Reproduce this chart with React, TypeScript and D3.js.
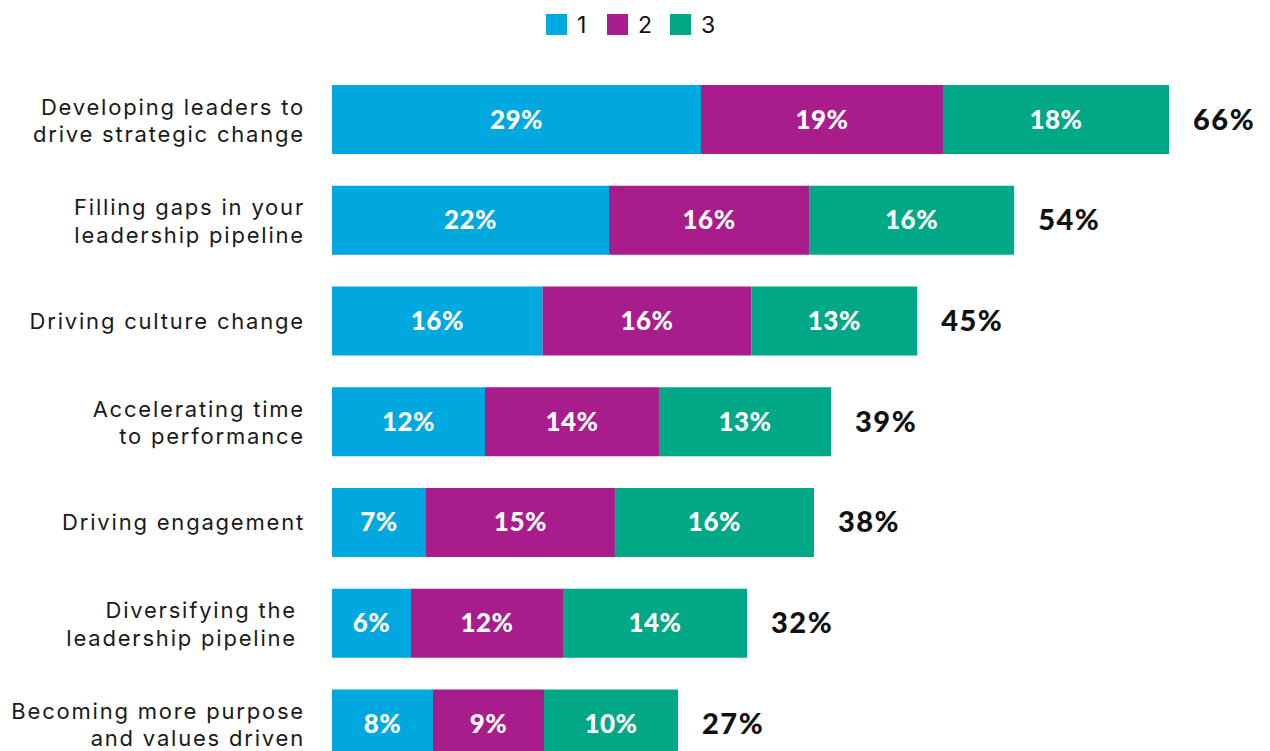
import React from "react";
import * as d3 from "d3";

const categories: string[][] = [
  ["Developing leaders to", "drive strategic change"],
  ["Filling gaps in your", "leadership pipeline"],
  ["Driving culture change"],
  ["Accelerating time", "to performance"],
  ["Driving engagement"],
  ["Diversifying the", "leadership pipeline"],
  ["Becoming more purpose", "and values driven"],
];

const seriesNames = ["1", "2", "3"];
const series1 = [28.94, 21.73, 16.52, 12.0, 7.37, 6.2, 7.92];
const series2 = [18.98, 15.69, 16.38, 13.65, 14.82, 11.92, 8.71];
const series3 = [17.73, 16.08, 13.0, 13.49, 15.61, 14.43, 10.51];
const labels1 = ["29%", "22%", "16%", "12%", "7%", "6%", "8%"];
const labels2 = ["19%", "16%", "16%", "14%", "15%", "12%", "9%"];
const labels3 = ["18%", "16%", "13%", "13%", "16%", "14%", "10%"];
const totalLabels = ["66%", "54%", "45%", "39%", "38%", "32%", "27%"];

const colors = ["#00A8E0", "#A81C8C", "#00A886"];
const FONT = "Inter, 'Open Sans', sans-serif";
const BOLD = "Lato, 'Open Sans', sans-serif";

export default function App() {
  const W = 1270;
  const H = 751;
  const x = d3.scaleLinear().domain([0, 100]).range([332, 332 + 1275]);
  const idx = categories.map((_, i) => String(i));
  const y = d3
    .scaleBand<string>()
    .domain(idx)
    .range([85, 758.5])
    .paddingInner(0.315)
    .paddingOuter(0);
  const bw = y.bandwidth();
  const allSeries = [series1, series2, series3];
  const allLabels = [labels1, labels2, labels3];
  const stack = d3
    .stack<number>()
    .keys([0, 1, 2] as any)
    .value((i: number, k: any) => allSeries[k][i]);
  const stacked = stack(categories.map((_, i) => i));

  const legendX = [546, 607, 670];

  return (
    <svg
      width={W}
      height={H}
      style={{ position: "absolute", left: 0, top: 0, background: "#fff" }}
    >
      {seriesNames.map((n, k) => (
        <g key={n}>
          <rect x={legendX[k]} y={14} width={21} height={21} fill={colors[k]} />
          <text
            x={legendX[k] + 31}
            y={33}
            fontFamily={FONT}
            fontSize={23}
            fill="#111"
          >
            {n}
          </text>
        </g>
      ))}
      {stacked.map((layer, k) => (
        <g key={k}>
          {layer.map((d, i) => {
            const y0 = y(String(i))!;
            const x0 = x(d[0]);
            const x1 = x(d[1]);
            return (
              <g key={i}>
                <rect x={x0} y={y0} width={x1 - x0} height={bw} fill={colors[k]} />
                <text
                  x={(x0 + x1) / 2}
                  y={y0 + bw / 2 + 9}
                  textAnchor="middle"
                  fontFamily={BOLD}
                  fontWeight={900}
                  fontSize={26}
                  letterSpacing={0.5}
                  fill="#fff"
                >
                  {allLabels[k][i]}
                </text>
              </g>
            );
          })}
        </g>
      ))}
      {categories.map((lines, i) => {
        const cy = y(String(i))! + bw / 2;
        const end = x(stacked[2][i][1]);
        const ax = i === 5 ? 297 : 305;
        return (
          <g key={i}>
            {lines.map((t, j) => (
              <text
                key={j}
                x={ax}
                y={lines.length === 1 ? cy + 8 : cy - 5 + j * 27.5}
                textAnchor="end"
                fontFamily={FONT}
                fontSize={22}
                letterSpacing={1.8}
                fill="#1a1a1a"
              >
                {t}
              </text>
            ))}
            <text
              x={end + 24}
              y={cy + 10}
              fontFamily={BOLD}
              fontWeight={900}
              fontSize={29}
              letterSpacing={1.5}
              fill="#111"
            >
              {totalLabels[i]}
            </text>
          </g>
        );
      })}
    </svg>
  );
}
